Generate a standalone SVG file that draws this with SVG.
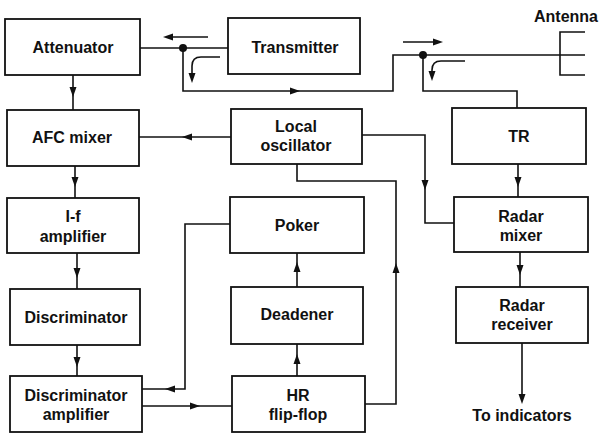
<svg xmlns="http://www.w3.org/2000/svg" xmlns:xlink="http://www.w3.org/1999/xlink" width="599" height="436" viewBox="0 0 599 436">
<style>
.box{fill:#fff;stroke:#111;stroke-width:1.8}
.ln{fill:none;stroke:#111;stroke-width:1.6}
.t{font-family:"Liberation Sans",Arial,sans-serif;font-size:16px;font-weight:bold;fill:#111;text-anchor:middle}
.ah{fill:#111}
</style>
<defs>
<path id="ah" d="M0,0 L-10,-3.5 L-10,3.5 Z"/>
</defs>
<rect width="599" height="436" fill="#fff"/>
<g id="connectors">
<path class="ln" d="M73,75 V110"/>
<use href="#ah" class="ah" transform="translate(73,97) rotate(90)"/>
<path class="ln" d="M75,166 V198"/>
<use href="#ah" class="ah" transform="translate(75,187) rotate(90)"/>
<path class="ln" d="M77,253 V289"/>
<use href="#ah" class="ah" transform="translate(77,278) rotate(90)"/>
<path class="ln" d="M77,345 V376"/>
<use href="#ah" class="ah" transform="translate(77,367) rotate(90)"/>
<path class="ln" d="M231,137 H139"/>
<use href="#ah" class="ah" transform="translate(182,137) rotate(180)"/>
<path class="ln" d="M140,48 H228"/>
<circle cx="183" cy="48" r="4" fill="#111"/>
<path class="ln" d="M183,48 V91 H393 V55 H585"/>
<use href="#ah" class="ah" transform="translate(300,91)"/>
<circle cx="423" cy="55" r="4" fill="#111"/>
<path class="ln" d="M423,55 V91 H517 V108"/>
<path class="ln" d="M585,32 H560 V75 H585"/>
<path class="ln" d="M208,37 H170"/>
<use href="#ah" class="ah" transform="translate(163,37) rotate(180)"/>
<path class="ln" d="M403,42 H436"/>
<use href="#ah" class="ah" transform="translate(443,42)"/>
<path class="ln" d="M220,57 H201 Q192,57 192,66 V76"/>
<use href="#ah" class="ah" transform="translate(192,83) rotate(90)"/>
<path class="ln" d="M465,61 H441 Q432,61 432,70 V74"/>
<use href="#ah" class="ah" transform="translate(432,81) rotate(90)"/>
<path class="ln" d="M518,164 V197"/>
<use href="#ah" class="ah" transform="translate(518,187) rotate(90)"/>
<path class="ln" d="M520,252 V287"/>
<use href="#ah" class="ah" transform="translate(520,275) rotate(90)"/>
<path class="ln" d="M522,343 V398"/>
<use href="#ah" class="ah" transform="translate(522,404) rotate(90)"/>
<path class="ln" d="M362,135 H425 V223 H454"/>
<use href="#ah" class="ah" transform="translate(425,190) rotate(90)"/>
<path class="ln" d="M365,404 H396 V181 H297 V164"/>
<use href="#ah" class="ah" transform="translate(396,263) rotate(-90)"/>
<path class="ln" d="M297,287 V253"/>
<use href="#ah" class="ah" transform="translate(297,262) rotate(-90)"/>
<path class="ln" d="M297,376 V344"/>
<use href="#ah" class="ah" transform="translate(297,354) rotate(-90)"/>
<path class="ln" d="M230,224 H185 V389 H142"/>
<use href="#ah" class="ah" transform="translate(165,389) rotate(180)"/>
<path class="ln" d="M142,406 H232"/>
<use href="#ah" class="ah" transform="translate(200,406)"/>
</g>
<g id="attenuator"><rect class="box" x="5" y="19" width="135" height="56"/><text class="t" x="73" y="53">Attenuator</text></g>
<g id="afc-mixer"><rect class="box" x="7" y="110" width="132" height="56"/><text class="t" x="72" y="143">AFC mixer</text></g>
<g id="if-amplifier"><rect class="box" x="7" y="198" width="132" height="55"/><text class="t" x="73" y="222">I-f</text><text class="t" x="73" y="242">amplifier</text></g>
<g id="discriminator"><rect class="box" x="10" y="289" width="130" height="56"/><text class="t" x="76" y="323">Discriminator</text></g>
<g id="discriminator-amplifier"><rect class="box" x="10" y="376" width="132" height="56"/><text class="t" x="76" y="401">Discriminator</text><text class="t" x="76" y="420">amplifier</text></g>
<g id="transmitter"><rect class="box" x="228" y="18" width="132" height="56"/><text class="t" x="295" y="53">Transmitter</text></g>
<g id="local-oscillator"><rect class="box" x="231" y="109" width="131" height="55"/><text class="t" x="296" y="132">Local</text><text class="t" x="296" y="151">oscillator</text></g>
<g id="poker"><rect class="box" x="230" y="197" width="134" height="56"/><text class="t" x="297" y="231">Poker</text></g>
<g id="deadener"><rect class="box" x="231" y="287" width="132" height="57"/><text class="t" x="297" y="320">Deadener</text></g>
<g id="hr-flip-flop"><rect class="box" x="232" y="376" width="133" height="56"/><text class="t" x="298" y="401">HR</text><text class="t" x="298" y="420">flip-flop</text></g>
<g id="tr"><rect class="box" x="452" y="108" width="134" height="56"/><text class="t" x="519" y="142">TR</text></g>
<g id="radar-mixer"><rect class="box" x="454" y="197" width="134" height="55"/><text class="t" x="521" y="222">Radar</text><text class="t" x="521" y="241">mixer</text></g>
<g id="radar-receiver"><rect class="box" x="456" y="287" width="132" height="56"/><text class="t" x="522" y="311">Radar</text><text class="t" x="522" y="330">receiver</text></g>
<g id="antenna"><text class="t" x="566" y="22">Antenna</text></g>
<g id="to-indicators"><text class="t" x="522" y="421">To indicators</text></g>
</svg>
